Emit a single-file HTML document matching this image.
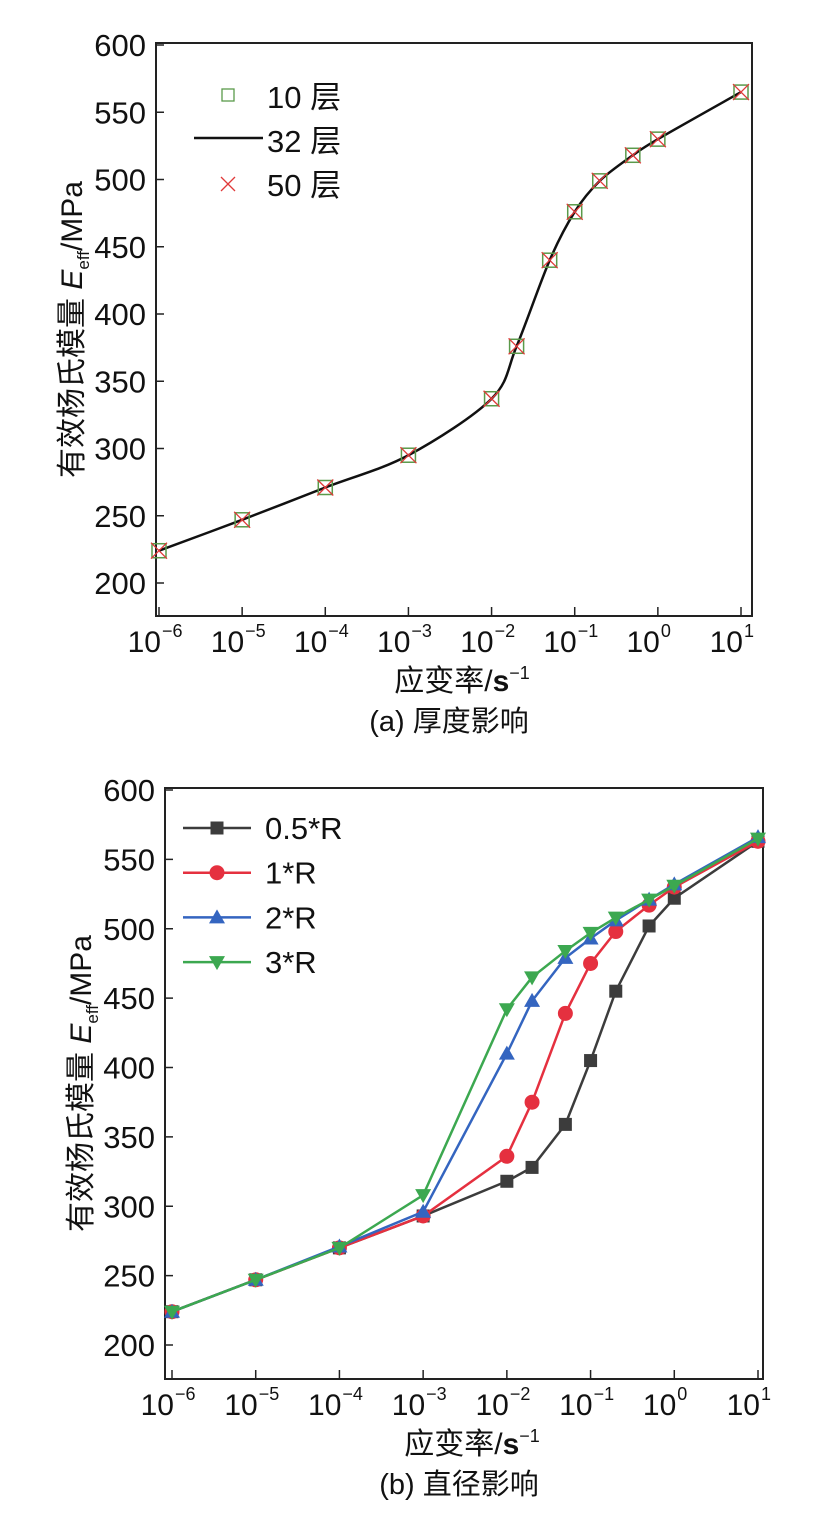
<!DOCTYPE html>
<html><head><meta charset="utf-8">
<style>
html,body{margin:0;padding:0;background:#fff;}
svg{display:block;font-family:"Liberation Sans","Noto Sans CJK SC",sans-serif;}
</style></head>
<body>
<svg id="fig" width="827" height="1526" viewBox="0 0 827 1526"></svg>
<script>
const xExp = [-6,-5,-4,-3,-2,-1.699,-1.301,-1,-0.699,-0.301,0,1];
const tickExps = [-6,-5,-4,-3,-2,-1,0,1];
const tickSup = ["−6","−5","−4","−3","−2","−1","0","1"];
const yTicks = [200,250,300,350,400,450,500,550,600];
const thickVals = [224,247,271,295,337,376,440,476,499,518,530,565];
const r05 = [224,247,270,293,318,328,359,405,455,502,522,563];
const r1 = [224,247,270,293,336,375,439,475,498,517,530,563];
const r2 = [224,247,271,296,410,448,479,493,506,521,532,566];
const r3 = [224,247,270,308,442,465,484,497,508,521,531,565];

const NS="http://www.w3.org/2000/svg";
const svg=document.getElementById('fig');
function mk(tag,attrs,parent){const e=document.createElementNS(NS,tag);for(const k in attrs)e.setAttribute(k,attrs[k]);(parent||svg).appendChild(e);return e;}

function axes(cfg){
  const g=mk('g',{});
  
  
  const X=v=>cfg.x0+(v+6)*(cfg.x1-cfg.x0)/7;
  const Y=v=>cfg.y600+(600-v)*(cfg.y200-cfg.y600)/400;
  const f=mk('rect',{x:cfg.L,y:cfg.T,width:cfg.R-cfg.L,height:cfg.B-cfg.T,fill:'none',stroke:'#222','stroke-width':2},g);
  
  yTicks.forEach(t=>{
    mk('line',{x1:cfg.L,x2:cfg.L+8,y1:Y(t),y2:Y(t),stroke:'#222','stroke-width':1.5},g);
    const tx=mk('text',{x:cfg.L-10,y:Y(t)+11,'text-anchor':'end','font-size':31,fill:'#111'},g);
    tx.textContent=t;
    
  });
  tickExps.forEach((e,i)=>{
    mk('line',{x1:X(e),x2:X(e),y1:cfg.B,y2:cfg.B-9,stroke:'#222','stroke-width':1.5},g);
    const tx=mk('text',{x:X(e)+2,y:cfg.B+36,'text-anchor':'end','font-size':30,fill:'#111'},g);
    tx.textContent='10';
    
    const s=mk('text',{x:X(e)+3,y:cfg.B+21,'text-anchor':'start','font-size':18,fill:'#111'},g);
    s.textContent=tickSup[i];
    
  });
  const xt=mk('text',{x:(cfg.L+cfg.R)/2+8,y:cfg.B+75,'text-anchor':'middle','font-size':30,fill:'#111'},g);
  xt.innerHTML='应变率/<tspan font-weight="bold">s</tspan><tspan dy="-12" font-size="18">−1</tspan>';
  
  const cap=mk('text',{x:(cfg.L+cfg.R)/2-5,y:cfg.B+115,'text-anchor':'middle','font-size':29,fill:'#111'},g);
  cap.textContent=cfg.caption;
  
  const cy=(cfg.T+cfg.B)/2;
  const yt=mk('text',{x:0,y:0,'text-anchor':'middle','font-size':30,fill:'#111',transform:`translate(${cfg.L-74},${cy}) rotate(-90)`},g);
  yt.innerHTML='有效杨氏模量 <tspan font-style="italic">E</tspan><tspan dy="7" font-size="17">eff</tspan><tspan dy="-7">/MPa</tspan>';
  
  return {g,X,Y};
}

function smoothPath(pts){
  let d=`M${pts[0][0]},${pts[0][1]}`;
  for(let i=0;i<pts.length-1;i++){
    const p0=pts[i-1]||pts[i],p1=pts[i],p2=pts[i+1],p3=pts[i+2]||p2;
    const t=0.16;
    const c1=[p1[0]+(p2[0]-p0[0])*t,p1[1]+(p2[1]-p0[1])*t];
    const c2=[p2[0]-(p3[0]-p1[0])*t,p2[1]-(p3[1]-p1[1])*t];
    d+=` C${c1[0]},${c1[1]} ${c2[0]},${c2[1]} ${p2[0]},${p2[1]}`;
  }
  return d;
}

// Chart A
const A=axes({name:'chart-thickness',L:156,R:752,T:43,B:616,x0:159,x1:741,y600:45,y200:583,caption:'(a) 厚度影响'});
const ptsA=xExp.map((e,i)=>[A.X(e),A.Y(thickVals[i])]);
const la=mk('path',{d:smoothPath(ptsA),fill:'none',stroke:'#111','stroke-width':2.5},A.g);

ptsA.forEach(p=>{
  const r=mk('rect',{x:p[0]-7,y:p[1]-7,width:14,height:14,fill:'none',stroke:'#5a9a4a','stroke-width':1.5},A.g);
  
  const c=mk('path',{d:`M${p[0]-8},${p[1]-8}L${p[0]+8},${p[1]+8}M${p[0]+8},${p[1]-8}L${p[0]-8},${p[1]+8}`,stroke:'#e03a3a','stroke-width':1.3,fill:'none'},A.g);
  
});
// legend A
const lgA=mk('g',{},A.g);

mk('rect',{x:222,y:89,width:12,height:12,fill:'none',stroke:'#5a9a4a','stroke-width':1.3},lgA);
mk('line',{x1:194,x2:263,y1:138,y2:138,stroke:'#111','stroke-width':2.5},lgA);
mk('path',{d:'M221,177L235,191M235,177L221,191',stroke:'#e03a3a','stroke-width':1.3},lgA);
[['10 层',108],['32 层',152],['50 层',196]].forEach(([t,y])=>{
  const tx=mk('text',{x:267,y:y,'font-size':31,fill:'#111'},lgA);tx.textContent=t;
  
});

// Chart B
const B=axes({name:'chart-diameter',L:165,R:763,T:788,B:1379,x0:172,x1:758,y600:790,y200:1345,caption:'(b) 直径影响'});
const series=[
  {name:'0.5*R',vals:r05,color:'#3c3c3c',m:'square'},
  {name:'1*R',vals:r1,color:'#e5303f',m:'circle'},
  {name:'2*R',vals:r2,color:'#3465c0',m:'up'},
  {name:'3*R',vals:r3,color:'#3ca850',m:'down'}
];
function marker(m,x,y,color,parent){
  let e;
  if(m==='square')e=mk('rect',{x:x-6.5,y:y-6.5,width:13,height:13,fill:color},parent);
  else if(m==='circle')e=mk('circle',{cx:x,cy:y,r:7.5,fill:color},parent);
  else if(m==='up')e=mk('path',{d:`M${x},${y-8}L${x+8},${y+6}L${x-8},${y+6}Z`,fill:color},parent);
  else e=mk('path',{d:`M${x},${y+8}L${x+8},${y-6}L${x-8},${y-6}Z`,fill:color},parent);
  return e;
}
series.forEach((s,si)=>{
  const g=mk('g',{},B.g);
  
  
  const pts=xExp.map((e,i)=>[B.X(e),B.Y(s.vals[i])]);
  mk('polyline',{points:pts.map(p=>p.join(',')).join(' '),fill:'none',stroke:s.color,'stroke-width':2.5},g);
  pts.forEach(p=>{const e=marker(s.m,p[0],p[1],s.color,g);
    });
  const ly=828+si*44.7;
  const lg=mk('g',{},B.g);
  
  mk('line',{x1:183,x2:251,y1:ly,y2:ly,stroke:s.color,'stroke-width':2.5},lg);
  marker(s.m,217,ly,s.color,lg);
  const tx=mk('text',{x:265,y:ly+11,'font-size':31,fill:'#111'},lg);tx.textContent=s.name;
});
</script>
</body></html>
